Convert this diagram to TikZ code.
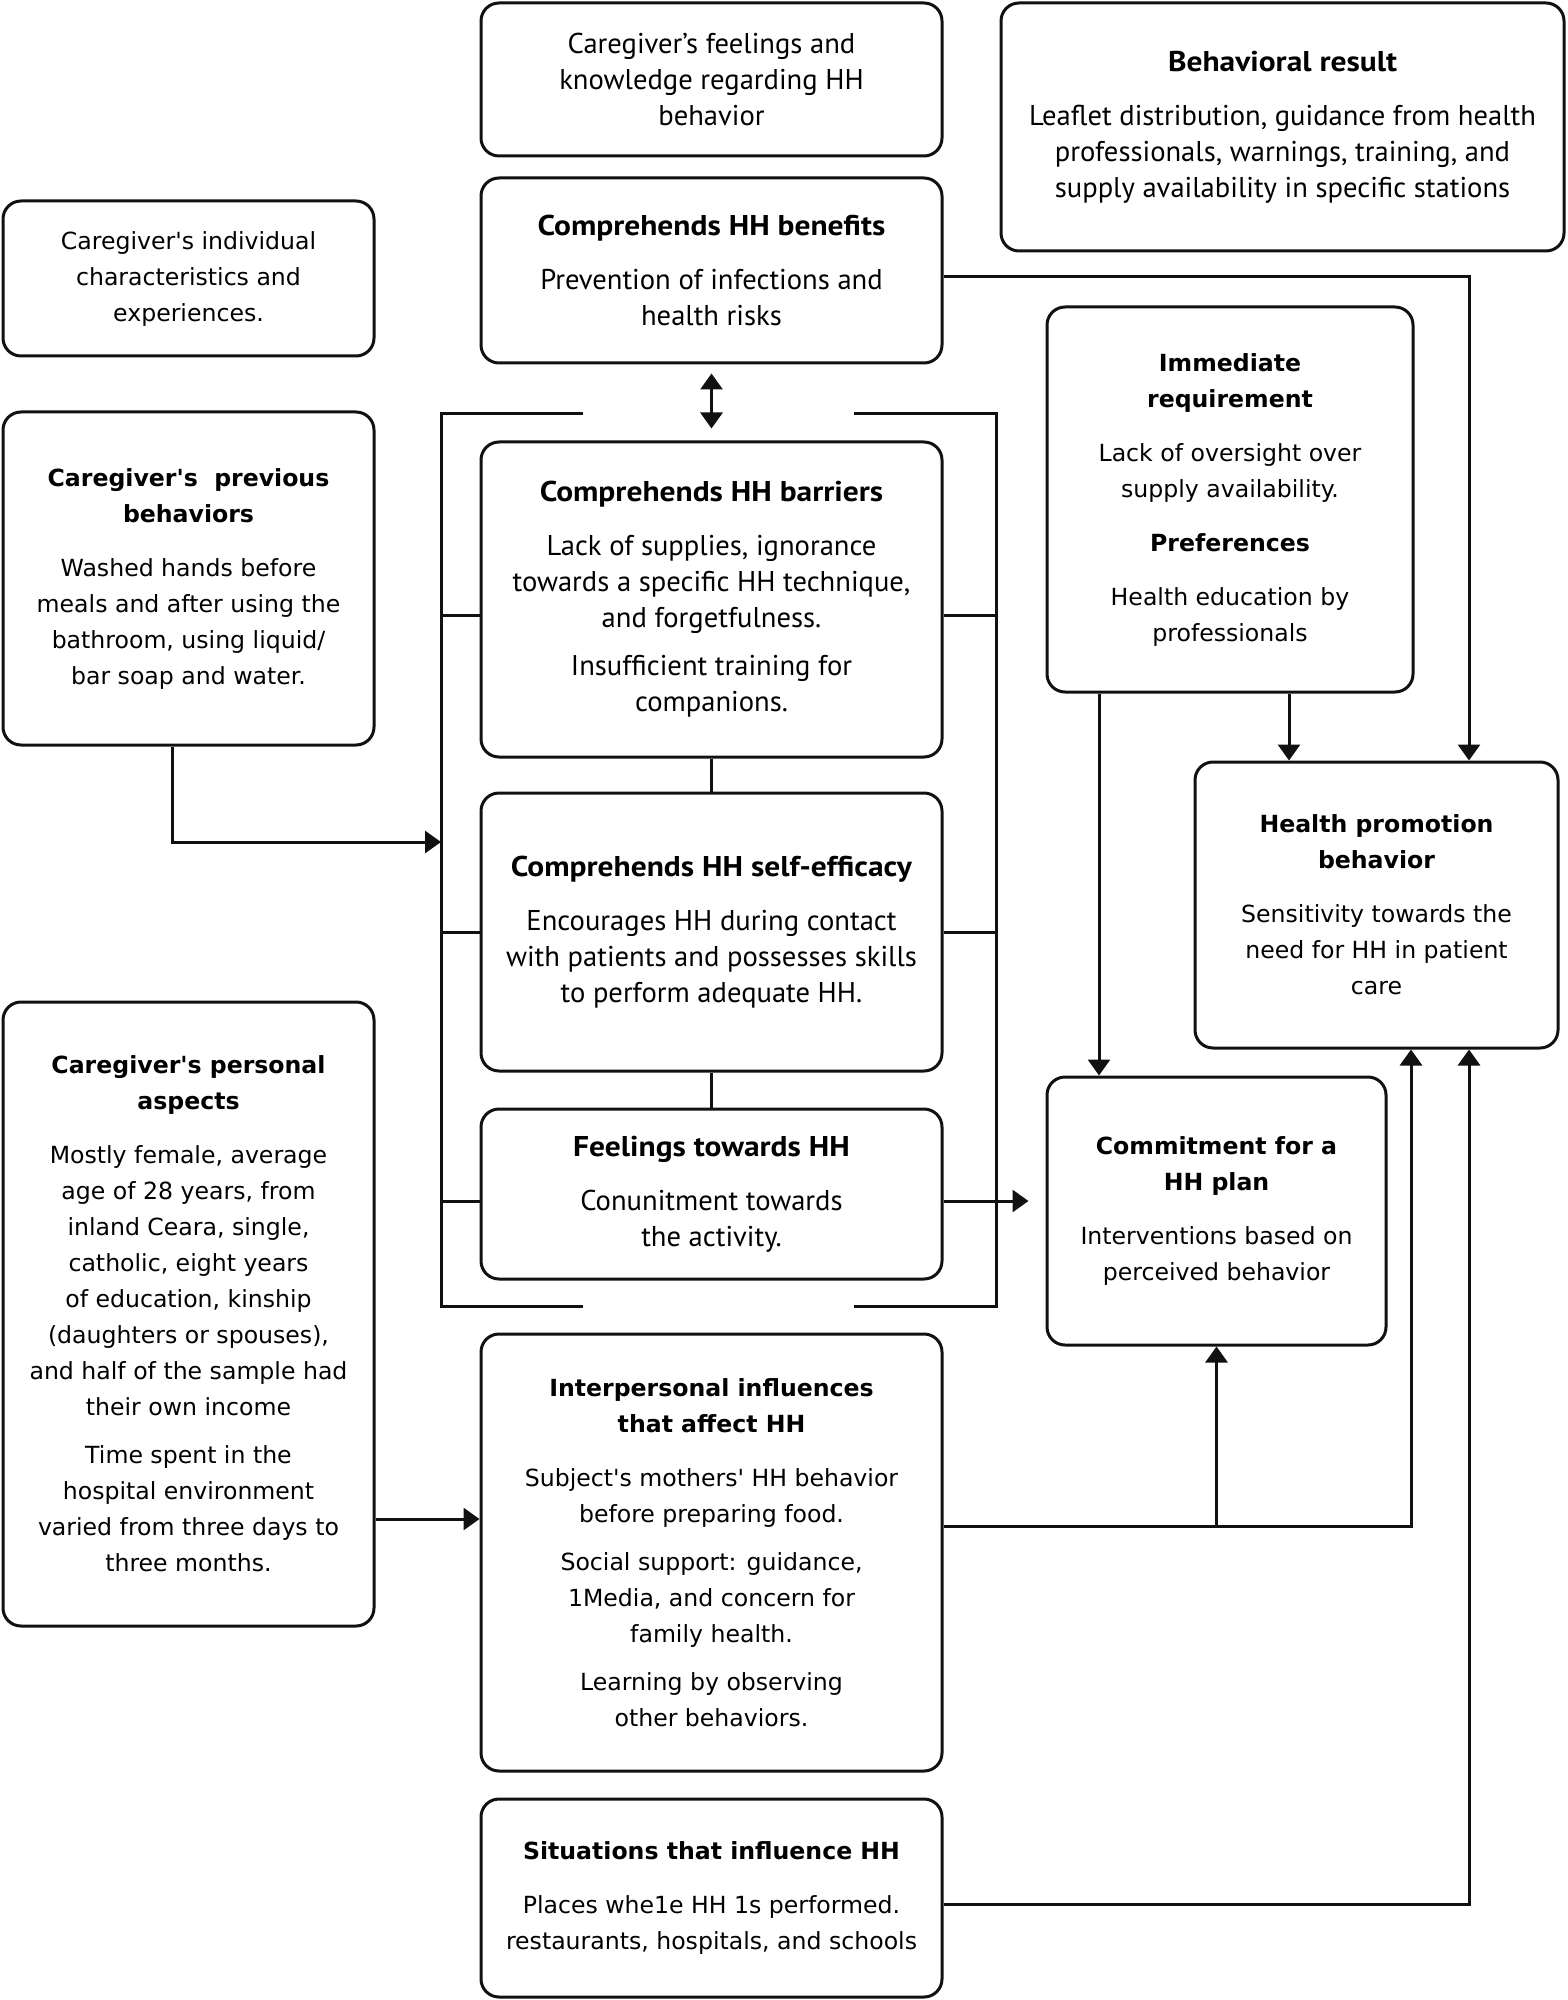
\documentclass[tikz,border=0pt]{standalone}
\usepackage{fontspec}
\setmainfont{PT Sans}[BoldFeatures={FakeStretch=1.1}]
\newfontfamily\vfont{DejaVu Sans}
\usepackage{tikz}
\usetikzlibrary{
  arrows.meta,
  positioning,
  calc
}
\definecolor{hhInk}{HTML}{111111}
\tikzset{
  hhnode/.style={
    draw=hhInk, rounded corners=9pt, line width=1.5pt, align=center, inner sep=0pt
  },
  mbox/.style={hhnode, font=\fontsize{14.3}{18}\selectfont},
  vbox/.style={hhnode, font=\vfont\fontsize{11.8}{18}\selectfont},
  flow/.style={-{Triangle[length=8pt, width=11pt]}, line width=1.5pt, hhInk},
  twoway/.style={{Triangle[length=8pt, width=11pt]}-{Triangle[length=8pt, width=11pt]}, line width=1.5pt, hhInk},
  netline/.style={line width=1.5pt, hhInk}
}
\newcommand{\hgap}{\\[6pt]}
\newcommand{\tgap}{\\[9pt]}

\begin{document}
\begin{tikzpicture}[x=0.5pt, y=-0.5pt]
  \useasboundingbox (0,0) rectangle (1567,2000);
  \node[mbox, minimum width=230.5pt, minimum height=76.5pt] (feel) at (711.5,79.5)
    {Caregiver's feelings and\\knowledge regarding HH\\behavior};
  \node[mbox, minimum width=281.5pt, minimum height=124pt] (result) at (1282.5,127)
    {\textbf{Behavioral result}\tgap Leaflet distribution, guidance from health\\professionals, warnings, training, and\\supply availability in specific stations};
  \node[vbox, minimum width=185.5pt, minimum height=77.5pt] (indiv) at (188.5,278.5)
    {Caregiver's individual\\characteristics and\\experiences.};
  \node[mbox, minimum width=230.5pt, minimum height=92.5pt] (benefits) at (711.5,270.5)
    {\textbf{Comprehends HH benefits}\tgap Prevention of infections and\\health risks};
  \node[mbox, minimum width=230.5pt, minimum height=157.5pt] (barriers) at (711.5,599.5)
    {\textbf{Comprehends HH barriers}\tgap Lack of supplies, ignorance\\towards a specific HH technique,\\and forgetfulness.\hgap Insufficient training for\\companions.};
  \node[mbox, minimum width=230.5pt, minimum height=139pt] (selfeff) at (711.5,932)
    {\textbf{Comprehends HH self-efficacy}\tgap Encourages HH during contact\\with patients and possesses skills\\to perform adequate HH.};
  \node[mbox, minimum width=230.5pt, minimum height=85pt] (feelhh) at (711.5,1194)
    {\textbf{Feelings towards HH}\tgap Conunitment towards\\the activity.};
  \node[vbox, minimum width=185.5pt, minimum height=166.5pt] (prev) at (188.5,578.5)
    {\textbf{Caregiver's~ previous}\\\textbf{behaviors}\tgap Washed hands before\\meals and after using the\\bathroom, using liquid/\\bar soap and water.};
  \node[vbox, minimum width=185.5pt, minimum height=312pt] (personal) at (188.5,1314)
    {\textbf{Caregiver's personal}\\\textbf{aspects}\tgap Mostly female, average\\age of 28 years, from\\inland Ceara, single,\\catholic, eight years\\of education, kinship\\(daughters or spouses),\\and half of the sample had\\their own income\hgap Time spent in the\\hospital environment\\varied from three days to\\three months.};
  \node[vbox, minimum width=230.5pt, minimum height=218.5pt] (interp) at (711.5,1552.5)
    {\textbf{Interpersonal influences}\\\textbf{that affect HH}\tgap Subject's mothers' HH behavior\\before preparing food.\hgap Social support: guidance,\\1Media, and concern for\\family health.\hgap Learning by observing\\other behaviors.};
  \node[vbox, minimum width=230.5pt, minimum height=99pt] (situ) at (711.5,1898)
    {\textbf{Situations that influence HH}\tgap Places whe1e HH 1s performed.\\restaurants, hospitals, and schools};
  \node[vbox, minimum width=183pt, minimum height=192.5pt] (immed) at (1230,499.5)
    {\textbf{Immediate}\\\textbf{requirement}\tgap Lack of oversight over\\supply availability.\tgap \textbf{Preferences}\tgap Health education by\\professionals};
  \node[vbox, minimum width=181.5pt, minimum height=143pt] (hpb) at (1376.5,905)
    {\textbf{Health promotion}\\\textbf{behavior}\tgap Sensitivity towards the\\need for HH in patient\\care};
  \node[vbox, minimum width=169.5pt, minimum height=134pt] (commit) at (1216.5,1211)
    {\textbf{Commitment for a}\\\textbf{HH plan}\tgap Interventions based on\\perceived behavior};

  \coordinate (brL) at (441,0);
  \coordinate (brR) at (996,0);
  \draw[netline] (583,414) -- (441,414) -- (441,1306) -- (583,1306);
  \draw[netline] (854,414) -- (996,414) -- (996,1306) -- (854,1306);
  \coordinate (tb) at ([yshift=-8pt]barriers.west);
  \coordinate (tf) at ([yshift=-3.5pt]feelhh.west);
  \draw[netline] (brL |- tb) -- (tb) (tb -| barriers.east) -- (brR |- tb);
  \draw[netline] (brL |- selfeff.west) -- (selfeff.west) (selfeff.east) -- (brR |- selfeff.east);
  \draw[netline] (brL |- tf) -- (tf);
  \draw[netline] (barriers) -- (selfeff);
  \draw[netline] (selfeff) -- (feelhh);
  \draw[twoway, shorten <=4.5pt, shorten >=6pt] (benefits) -- (barriers);

  \coordinate (prevIn) at (441,842);
  \draw[flow] ([xshift=-8pt]prev.south) |- (prevIn);
  \coordinate (pa) at ([yshift=-102.5pt]personal.east);
  \draw[flow] (pa) -- (pa -| interp.west);
  \draw[flow, shorten >=8.5pt] (tf -| feelhh.east) -- (tf -| commit.west);

  \coordinate (colA) at (1469,0);
  \coordinate (colB) at (1289,0);
  \coordinate (colC) at (1099,0);
  \coordinate (colD) at (1411,0);
  \draw[flow] ([yshift=-3pt]benefits.east) -| (colA |- hpb.north);
  \draw[flow] (colB |- immed.south) -- (colB |- hpb.north);
  \draw[flow] (colC |- immed.south) -- (colC |- commit.north);
  \coordinate (ia) at ([yshift=13pt]interp.east);
  \draw[flow] (ia) -| (colD |- hpb.south);
  \draw[flow] (ia -| commit.south) -- (commit.south);
  \draw[flow] ([yshift=-3pt]situ.east) -| (colA |- hpb.south);
\end{tikzpicture}
\end{document}
